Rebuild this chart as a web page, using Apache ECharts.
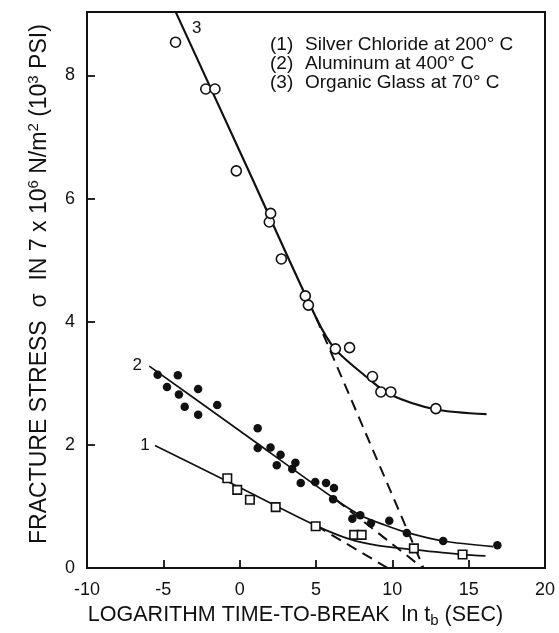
<!DOCTYPE html>
<html><head><meta charset="utf-8">
<script src="https://cdn.jsdelivr.net/npm/echarts@6/dist/echarts.min.js"></script>
<style>html,body{margin:0;padding:0;background:#fff}#c{width:559px;height:633px}</style>
</head><body><div id="c"></div>
<script>
// ---- axis settings ----
const xRange = [-10, 20];
const xInterval = 5;
const yRange = [0, 9.03];
const yInterval = 2;

// ---- measured points ----
const silverChloridePts = [[-0.81,1.46],[-0.16,1.27],[0.67,1.11],[2.36,0.99],[4.98,0.68],[7.5,0.54],[7.99,0.54],[11.41,0.32],[14.6,0.22]];
const aluminumPts = [[-5.37,3.14],[-4.76,2.94],[-4.05,3.13],[-3.98,2.82],[-3.6,2.62],[-2.72,2.91],[-2.72,2.49],[-1.47,2.65],[1.18,2.27],[1.18,1.95],[2.02,1.96],[2.68,1.84],[2.43,1.67],[3.65,1.71],[3.44,1.61],[4.0,1.38],[4.95,1.4],[5.66,1.38],[6.18,1.3],[6.12,1.12],[7.38,0.8],[7.9,0.86],[8.6,0.73],[9.8,0.77],[10.95,0.57],[13.33,0.44],[16.88,0.37]];
const organicGlassPts = [[-4.2,8.54],[-2.22,7.78],[-1.62,7.78],[-0.22,6.45],[1.94,5.62],[2.03,5.76],[2.73,5.02],[4.3,4.42],[4.5,4.27],[6.27,3.56],[7.2,3.58],[8.7,3.11],[9.25,2.86],[9.9,2.86],[12.85,2.59]];

// ---- fitted curves ----
const silverChlorideFit = [[-5.55,1.99],[0,1.31],[5.0,0.69],[7.2,0.47],[9.0,0.37],[11.4,0.3],[14.6,0.22],[16.1,0.2]];
const aluminumFit = [[-5.92,3.28],[0,2.23],[6.3,1.11],[7.9,0.86],[9.5,0.7],[10.93,0.58],[13.3,0.44],[16.6,0.35]];
const organicGlassFit = [[-4.17,9.02],[0.5,6.5],[5.0,4.07],[6.24,3.56],[8.53,3.06],[9.84,2.82],[12.8,2.58],[16.17,2.5]];

// ---- dashed linear extrapolations ----
const silverChlorideExt = [[5.0,0.69],[9.7,0]];
const aluminumExt = [[6.3,1.11],[12.0,0]];
const organicGlassExt = [[5.0,4.07],[12.05,0]];

// ---- curve number labels ----
const curveLabels = [[-6.2,1.99,'1'],[-6.71,3.29,'2'],[-2.82,8.77,'3']];

// ---- legend text ----
const legendKeys = ['(1)','(2)','(3)'];
const legendNames = ['Silver Chloride at 200\u00b0 C','Aluminum at 400\u00b0 C','Organic Glass at 70\u00b0 C'];

const INK = '#111';
const FONT = '"Liberation Sans", Arial, sans-serif';

function fitLine(data, width) {
  return {type:'line', data, smooth:0.3, symbol:'none', silent:true,
    lineStyle:{color:INK, width}, z:2};
}
function extLine(data) {
  return {type:'line', data, symbol:'none', silent:true,
    lineStyle:{color:INK, width:2, type:[11,7]}, z:2};
}

const yRich = {
  n:{fontSize:23, fontFamily:FONT, color:INK, lineHeight:28},
  sup:{fontSize:15, fontFamily:FONT, color:INK, verticalAlign:'top', lineHeight:15}
};
const xRich = {
  n:{fontSize:21.5, fontFamily:FONT, color:INK, lineHeight:26},
  sub:{fontSize:15, fontFamily:FONT, color:INK, verticalAlign:'bottom', lineHeight:14}
};

const graphics = [];
legendKeys.forEach((k,i)=>{
  const y = 44.6 + i*19.2;
  graphics.push({type:'text', x:270, y, silent:true,
    style:{text:k, font:'19px "Liberation Sans", Arial, sans-serif', fill:INK, textVerticalAlign:'middle'}});
  graphics.push({type:'text', x:305, y, silent:true,
    style:{text:legendNames[i], font:'19px "Liberation Sans", Arial, sans-serif', fill:INK, textVerticalAlign:'middle'}});
});

const chart = echarts.init(document.getElementById('c'));
chart.setOption({
  animation:false,
  backgroundColor:'#fff',
  grid:{left:87, right:14, top:12, bottom:58, show:true, borderColor:INK, borderWidth:2, backgroundColor:'transparent'},
  xAxis:{type:'value', min:xRange[0], max:xRange[1], interval:xInterval,
    axisLine:{show:true, onZero:false, lineStyle:{color:INK, width:2}},
    axisTick:{show:true, inside:true, length:8, lineStyle:{color:INK, width:1.8}},
    axisLabel:{fontSize:18, fontFamily:FONT, color:INK, margin:13},
    splitLine:{show:false},
    name:'{n|LOGARITHM TIME-TO-BREAK  ln t}{sub|b}{n| (SEC)}',
    nameLocation:'middle', nameGap:25,
    nameTextStyle:{fontSize:21.5, fontFamily:FONT, color:INK, padding:[0,41,0,0], rich:xRich}
  },
  yAxis:{type:'value', min:yRange[0], max:yRange[1], interval:yInterval,
    axisLine:{show:true, onZero:false, lineStyle:{color:INK, width:2}},
    axisTick:{show:true, inside:true, length:8, lineStyle:{color:INK, width:1.8}},
    axisLabel:{fontSize:18, fontFamily:FONT, color:INK, margin:12, showMaxLabel:false,
      formatter:v => (Math.abs(v/yInterval - Math.round(v/yInterval))<1e-6 ? String(v) : '')},
    splitLine:{show:false},
    name:'{n|FRACTURE STRESS  \u03c3  IN 7 x 10}{sup|6}{n| N/m}{sup|2}{n| (10}{sup|3}{n| PSI)}',
    nameLocation:'middle', nameGap:33,
    nameTextStyle:{fontSize:23, fontFamily:FONT, color:INK, padding:[0,0,0,12], rich:yRich}
  },
  graphic:graphics,
  series:[
    fitLine(organicGlassFit, 2.2),
    fitLine(aluminumFit, 1.7),
    fitLine(silverChlorideFit, 1.7),
    extLine(organicGlassExt),
    extLine(aluminumExt),
    extLine(silverChlorideExt),
    {type:'scatter', data:organicGlassPts, symbol:'circle', symbolSize:10, z:3,
      itemStyle:{color:'#fff', borderColor:INK, borderWidth:1.6, opacity:1}},
    {type:'scatter', data:aluminumPts, symbol:'circle', symbolSize:8.5, z:3,
      itemStyle:{color:INK, opacity:1}},
    {type:'scatter', data:silverChloridePts, symbol:'rect', symbolSize:8.5, z:3,
      itemStyle:{color:'#fff', borderColor:INK, borderWidth:1.6, opacity:1}},
    {type:'scatter', data:curveLabels, symbolSize:1, z:4, silent:true,
      itemStyle:{color:'rgba(0,0,0,0)', opacity:1},
      label:{show:true, position:'inside', formatter:p => p.data[2], fontSize:17, fontFamily:FONT, color:INK, opacity:1}}
  ]
});
</script></body></html>
